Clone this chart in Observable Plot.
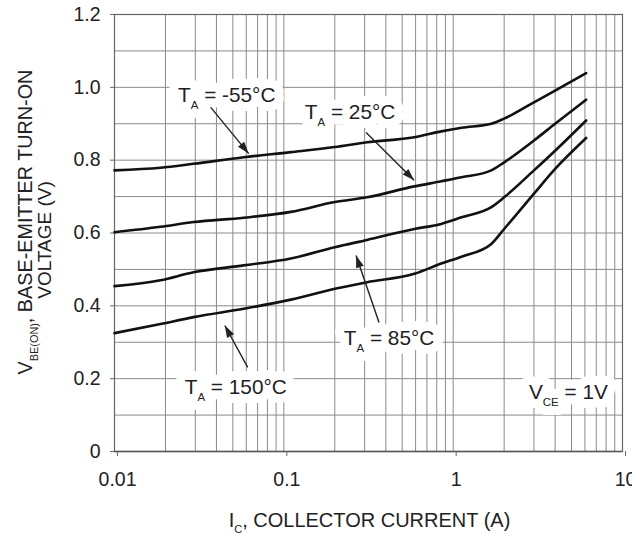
<!DOCTYPE html>
<html><head><meta charset="utf-8">
<script src="https://cdn.jsdelivr.net/npm/d3@7"></script>
<script src="https://cdn.jsdelivr.net/npm/@observablehq/plot@0.6"></script>
<style>
html,body{margin:0;padding:0;background:#fff;}
#chart{width:632px;height:534px;overflow:hidden;}
</style></head><body><div id="chart"></div>
<script>
// ---- data ----
const currentA = [0.01, 0.0187, 0.0293, 0.058, 0.11, 0.2, 0.31, 0.59, 0.85, 1.12, 1.68, 2.0, 3.0, 4.0, 6.1];
const vbeM55  = [0.772, 0.779, 0.790, 0.808, 0.822, 0.836, 0.849, 0.863, 0.879, 0.889, 0.900, 0.914, 0.959, 0.991, 1.039];
const vbe25   = [0.602, 0.617, 0.630, 0.642, 0.658, 0.685, 0.698, 0.728, 0.742, 0.753, 0.772, 0.794, 0.854, 0.900, 0.966];
const vbe85   = [0.454, 0.470, 0.492, 0.511, 0.530, 0.561, 0.581, 0.611, 0.625, 0.643, 0.671, 0.698, 0.772, 0.826, 0.909];
const vbe150  = [0.325, 0.350, 0.369, 0.392, 0.417, 0.447, 0.465, 0.488, 0.516, 0.535, 0.570, 0.611, 0.708, 0.776, 0.861];
const seriesNames = ["-55", "25", "85", "150"];

const xTicks = [0.01, 0.1, 1, 10];
const xTickLabels = ["0.01", "0.1", "1", "10"];
const yTicks = [0, 0.2, 0.4, 0.6, 0.8, 1.0, 1.2];
const yTickLabels = ["0", "0.2", "0.4", "0.6", "0.8", "1.0", "1.2"];
const xGrid = [0.01,0.02,0.03,0.04,0.05,0.06,0.07,0.08,0.09,
               0.1,0.2,0.3,0.4,0.5,0.6,0.7,0.8,0.9,
               1,2,3,4,5,6,7,8,9,10];
const yGrid = [0,0.1,0.2,0.3,0.4,0.5,0.6,0.7,0.8,0.9,1.0,1.1,1.2];

const labelText = ["T_{A} = -55°C", "T_{A} = 25°C", "T_{A} = 85°C", "T_{A} = 150°C", "V_{CE} = 1V"];
const labelX = [0.046, 0.246, 0.418, 0.052, 4.79];
const labelY = [0.977, 0.931, 0.310, 0.176, 0.162];
const arrowX1 = [0.037, 0.306, 0.365, 0.0612];
const arrowY1 = [0.945, 0.876, 0.354, 0.231];
const arrowX2 = [0.062, 0.588, 0.267, 0.0448];
const arrowY2 = [0.818, 0.745, 0.538, 0.346];

const xLabel = "I_{C}, COLLECTOR CURRENT (A)";
const yLabel1 = "V_{BE(ON)}, BASE-EMITTER TURN-ON";
const yLabel2 = "VOLTAGE (V)";

// ---- build table ----
const allSeries = [vbeM55, vbe25, vbe85, vbe150];
const rows = [];
allSeries.forEach((vals, s) => vals.forEach((v, i) => rows.push({series: seriesNames[s], I: currentA[i], V: v})));
const labels = labelText.map((t, i) => ({t, x: labelX[i], y: labelY[i]}));
const arrows = arrowX1.map((d, i) => ({x1: arrowX1[i], y1: arrowY1[i], x2: arrowX2[i], y2: arrowY2[i]}));

const FONT = "Liberation Sans, Arial, Helvetica, sans-serif";
const INK = "#222";

function marks(rot) {
  const m = [
    Plot.ruleX(xGrid, {stroke: "#8a8a8a", strokeWidth: 1}),
    Plot.ruleY(yGrid, {stroke: "#8a8a8a", strokeWidth: 1}),
    Plot.frame({stroke: "#666", strokeWidth: 1.2}),
    Plot.ruleY([0], {stroke: "#555", strokeWidth: 1.5}),
    Plot.axisX(xTicks, {tickSize: 5, tickPadding: 16, dx: 3, fontSize: 19.5, stroke: "#666",
      tickFormat: d => xTickLabels[xTicks.indexOf(d)], label: null}),
    Plot.axisY(yTicks, {tickSize: 4, tickPadding: 10, fontSize: 19.5, stroke: "#666",
      tickFormat: d => yTickLabels[yTicks.indexOf(d)], label: null}),
    // white boxes (halo) behind the annotation texts
    Plot.text(labels, {x: "x", y: "y", text: "t", fontSize: 20.8, fill: "white",
      stroke: "white", strokeWidth: 18, strokeLinejoin: "round"}),
    Plot.text(labels, {x: "x", y: "y", text: "t", fontSize: 20.8, fill: INK}),
    Plot.line(rows, {x: "I", y: "V", z: "series", stroke: "#111", strokeWidth: 2.6, curve: "monotone-x"}),
    Plot.link(arrows, {x1: "x1", y1: "y1", x2: "x2", y2: "y2", stroke: INK, strokeWidth: 1.4}),
    Plot.text([xLabel], {frameAnchor: "bottom", textAnchor: "middle", dy: 69, dx: 1, fontSize: 20, fill: INK, lineAnchor: "middle"}),
    Plot.text([yLabel1], {frameAnchor: "left", textAnchor: "middle", rotate: -90, dx: -89, dy: -11, fontSize: 19.8, fill: INK, lineAnchor: "middle"}),
    Plot.text([yLabel2], {frameAnchor: "left", textAnchor: "middle", rotate: -90, dx: -70, dy: 7, fontSize: 19, fill: INK, lineAnchor: "middle"})
  ];
  if (rot) {
    m.push(Plot.vector(arrows, {x: "x2", y: "y2", rotate: (d, i) => rot[i], length: 12, r: 4,
      shape: "spike", anchor: "end", fill: INK, stroke: "none"}));
  }
  return m;
}

const opts = (rot) => ({
  width: 632, height: 534,
  marginLeft: 114, marginRight: 10, marginTop: 14, marginBottom: 83,
  x: {type: "log", domain: [0.01, 10]},
  y: {domain: [0, 1.2]},
  style: {fontFamily: FONT, fontSize: "18px", color: INK, background: "#fff"},
  marks: marks(rot)
});

// first pass to get the scales, then compute arrowhead angles in screen space
const tmp = Plot.plot(opts(null));
const sx = tmp.scale("x"), sy = tmp.scale("y");
const rot = arrows.map(a => {
  const dx = sx.apply(a.x2) - sx.apply(a.x1);
  const dy = sy.apply(a.y2) - sy.apply(a.y1);
  return Math.atan2(dx, -dy) * 180 / Math.PI;
});
const chart = Plot.plot(opts(rot));

// subscripts: turn "_{...}" into small lowered tspans
function applySubs(svg) {
  svg.querySelectorAll("text").forEach(el => {
    const targets = el.querySelector("tspan") ? Array.from(el.querySelectorAll("tspan")) : [el];
    targets.forEach(t => {
      const s = t.textContent;
      if (!s.includes("_{")) return;
      const fs = parseFloat(getComputedStyle(el).fontSize) || 18;
      const shift = fs * 0.32;
      t.textContent = "";
      const re = /_\{([^}]*)\}/g;
      let last = 0, m, lowered = false;
      const add = (txt, sub) => {
        const ts = document.createElementNS("http://www.w3.org/2000/svg", "tspan");
        ts.textContent = txt;
        if (sub) { ts.setAttribute("font-size", (fs * 0.55) + "px"); ts.setAttribute("dy", shift); lowered = true; }
        else if (lowered) { ts.setAttribute("dy", -shift); lowered = false; }
        t.appendChild(ts);
      };
      while ((m = re.exec(s))) {
        if (m.index > last) add(s.slice(last, m.index), false);
        add(m[1], true);
        last = re.lastIndex;
      }
      if (last < s.length) add(s.slice(last), false);
    });
  });
}
document.getElementById("chart").appendChild(chart);
applySubs(chart);
</script>
</body></html>
